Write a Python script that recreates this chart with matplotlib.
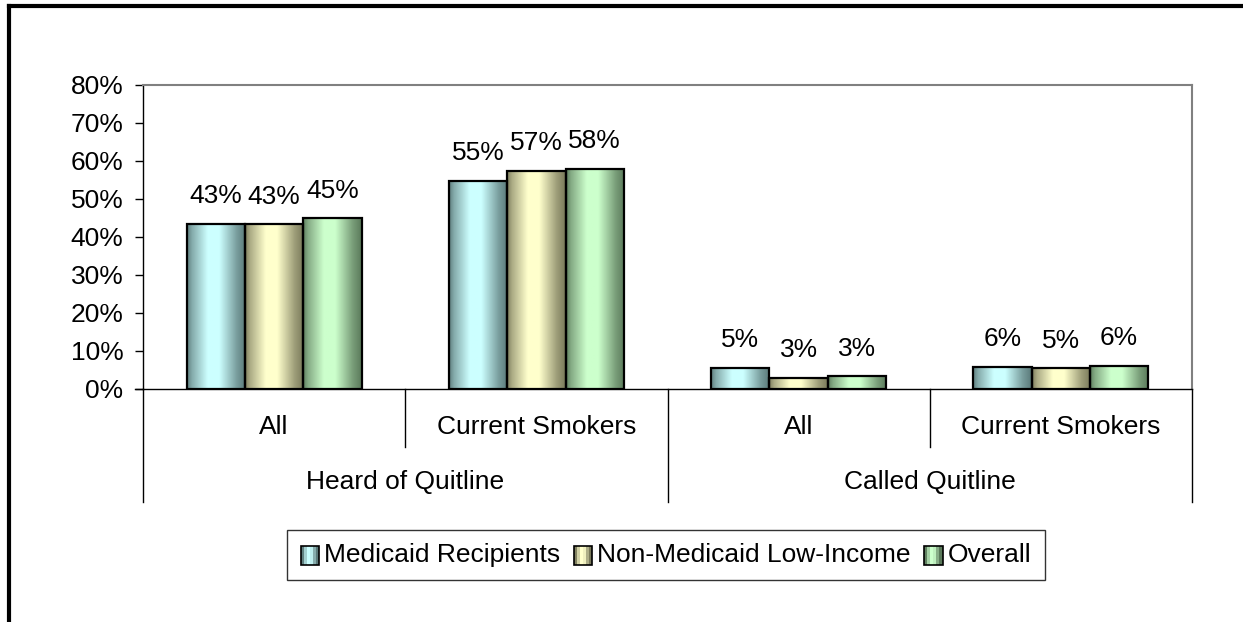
import numpy as np
import matplotlib.pyplot as plt
from matplotlib.lines import Line2D
from matplotlib.patches import Rectangle
from matplotlib.legend_handler import HandlerBase
plt.rcParams.update({'font.size': 19, 'font.family': ['Liberation Sans', 'DejaVu Sans']})

subgroups = ["All", "Current Smokers", "All", "Current Smokers"]
groups = ["Heard of Quitline", "Called Quitline"]
series = ["Medicaid Recipients", "Non-Medicaid Low-Income", "Overall"]
medicaid = [43.4, 54.8, 5.5, 5.9]
non_medicaid = [43.3, 57.4, 2.9, 5.4]
overall = [44.9, 57.9, 3.3, 6.0]
medicaid_lbl = ["43%", "55%", "5%", "6%"]
non_medicaid_lbl = ["43%", "57%", "3%", "5%"]
overall_lbl = ["45%", "58%", "3%", "6%"]

light = [(204, 255, 255), (255, 255, 204), (204, 255, 204)]
dark = [(85, 115, 115), (115, 115, 85), (85, 115, 85)]

# horizontal shading across each bar: dark edges, bright middle
t = np.linspace(0, 1, 60)
prof = np.interp(t, [0, 0.08, 0.35, 0.55, 0.85, 1], [0.1, 0.4, 1, 1, 0.3, 0.05])


def shade(i, n=60):
    lo = np.array(dark[i]) / 255
    hi = np.array(light[i]) / 255
    p = prof if n == 60 else np.interp(np.linspace(0, 1, n), t, prof)
    return lo + (hi - lo) * p[:, None]


class GradHandler(HandlerBase):
    def __init__(self, idx):
        super().__init__()
        self.idx = idx

    def create_artists(self, legend, orig, xd, yd, w, h, fs, trans):
        s = min(w, h) * 1.0
        x0 = xd + (w - s) / 2
        y0 = yd - 2
        cols = shade(self.idx, 6)
        arts = []
        for k, c in enumerate(cols):
            arts.append(Rectangle((x0 + k * s / 6, y0), s / 6, s, facecolor=c,
                                  edgecolor='none', transform=trans))
        arts.append(Rectangle((x0, y0), s, s, facecolor='none', edgecolor='black',
                              linewidth=1.2, transform=trans))
        return arts


fig = plt.figure(figsize=(12.43, 6.22), dpi=100)
ax = fig.add_axes([143 / 1243, 1 - 389 / 622, 1049 / 1243, 304 / 622])

x = np.arange(len(subgroups)) + 0.5
w = 1 / 4.5
handles = []
for i, (vals, lbls) in enumerate(zip([medicaid, non_medicaid, overall],
                                     [medicaid_lbl, non_medicaid_lbl, overall_lbl])):
    pos = x + (i - 1) * w
    bars = ax.bar(pos, vals, width=w, facecolor='none', edgecolor='black',
                  linewidth=1.6, zorder=3)
    img = shade(i)[None, :, :]
    for b in bars:
        im = ax.imshow(img, extent=(b.get_x(), b.get_x() + b.get_width(), 0, b.get_height()),
                       aspect='auto', zorder=2, interpolation='bilinear')
        im.set_clip_path(b)
    for xi, v, lb in zip(pos, vals, lbls):
        ax.annotate(lb, (xi, v), xytext=(0, 15), textcoords='offset points',
                    ha='center', va='baseline', fontsize=19)
    handles.append(Rectangle((0, 0), 1, 1))

ax.set_xlim(0, 4)
ax.set_ylim(0, 80)
ax.set_yticks(range(0, 81, 10))
ax.set_yticklabels([f"{v}%" for v in range(0, 81, 10)])
ax.set_xticks([])
ax.tick_params(axis='y', direction='out', length=6, width=1, pad=8)
for s in ['top', 'right']:
    ax.spines[s].set_color('#808080')
    ax.spines[s].set_linewidth(1.5)
ax.spines['left'].set_linewidth(1)
ax.spines['bottom'].set_linewidth(1)

# two-level category axis
tr = ax.get_xaxis_transform()
for xi, name in zip(x, subgroups):
    ax.text(xi, -0.125, name, transform=tr, ha='center', va='center', fontsize=19)
for gi, name in enumerate(groups):
    ax.text(1 + 2 * gi, -0.306, name, transform=tr, ha='center', va='center', fontsize=19)
for xv in [0, 2, 4]:
    ax.add_line(Line2D([xv, xv], [0, -0.372], transform=tr, color='black', lw=1, clip_on=False))
for xv in [1, 3]:
    ax.add_line(Line2D([xv, xv], [0, -0.191], transform=tr, color='black', lw=1, clip_on=False))
ax.add_line(Line2D([-0.03, 0], [0, 0], transform=ax.transData, color='black', lw=1, clip_on=False))

leg = fig.legend(handles, series, loc='center', bbox_to_anchor=(666 / 1243, 1 - 555 / 622),
                 ncol=3, frameon=True, fancybox=False, edgecolor='black', fontsize=19,
                 handler_map={h: GradHandler(i) for i, h in enumerate(handles)},
                 handlelength=0.7, handletextpad=0.2, columnspacing=0.5,
                 borderpad=0.5, borderaxespad=0)
leg.get_frame().set_linewidth(1)

# outer chart border (only top and left edges visible)
fig.add_artist(Line2D([9 / 1243, 1], [1 - 6 / 622, 1 - 6 / 622], color='black', lw=3))
fig.add_artist(Line2D([9 / 1243, 9 / 1243], [0, 1 - 6 / 622], color='black', lw=3))

plt.savefig("out.png", dpi=100)
